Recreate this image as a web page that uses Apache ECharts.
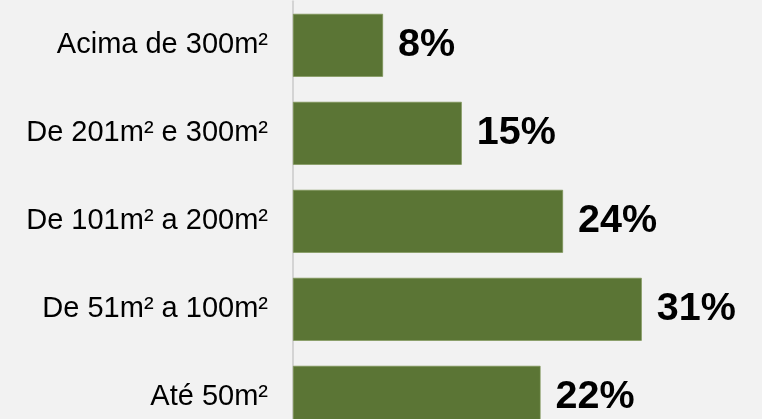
<!DOCTYPE html>
<html>
<head>
<meta charset="utf-8">
<script src="https://cdn.jsdelivr.net/npm/echarts@6/dist/echarts.min.js"></script>
<style>
  html, body { margin: 0; padding: 0; background: #f2f2f2; }
  #chart { width: 762px; height: 419px; }
</style>
</head>
<body>
<div id="chart"></div>
<script>
// Faixas de área (de cima para baixo) e participação de cada uma, em %
const categories = ['Acima de 300m²', 'De 201m² e 300m²', 'De 101m² a 200m²', 'De 51m² a 100m²', 'Até 50m²'];
const shares = [8, 15, 24, 31, 22];

const chart = echarts.init(document.getElementById('chart'), null, { renderer: 'canvas' });

chart.setOption({
  backgroundColor: '#f2f2f2',
  animation: false,
  // the plot runs past the lower edge, so the last bar is partly cut off
  grid: { left: 293, width: 450, top: 1.3, height: 440, containLabel: false, outerBoundsMode: 'none' },
  xAxis: {
    type: 'value',
    min: 0,
    max: 40,
    show: false
  },
  yAxis: {
    type: 'category',
    inverse: true,
    data: categories,
    axisLine: { show: true, lineStyle: { color: '#d4d4d4', width: 2 } },
    axisTick: { show: false },
    axisLabel: {
      margin: 25,
      color: '#000',
      fontFamily: '"Liberation Sans", Arial, sans-serif',
      fontSize: 29
    }
  },
  series: [{
    type: 'bar',
    data: shares,
    barCategoryGap: '28.5%',
    itemStyle: { color: '#5b7535', borderColor: '#7a9250', borderWidth: 0.6 },
    label: {
      show: true,
      position: 'right',
      distance: 15,
      formatter: p => p.value + '%',
      color: '#000',
      fontFamily: '"Liberation Sans", Arial, sans-serif',
      fontWeight: 'bold',
      fontSize: 39.5
    }
  }]
});
</script>
</body>
</html>
